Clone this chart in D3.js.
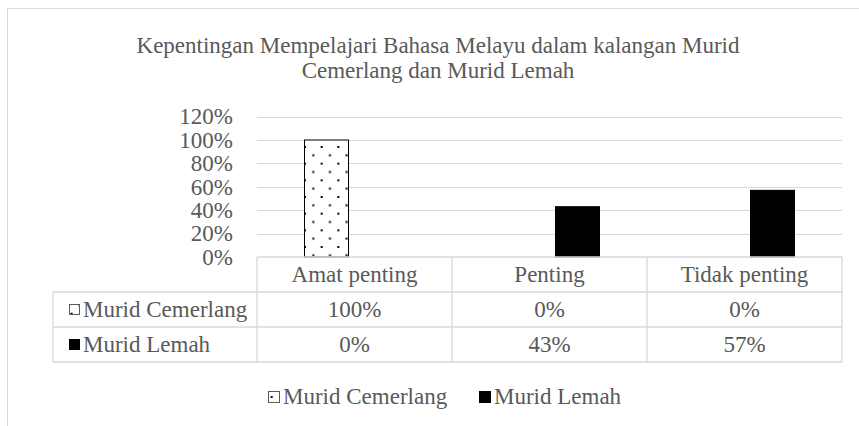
<!DOCTYPE html>
<html>
<head>
<meta charset="utf-8">
<script src="https://cdn.jsdelivr.net/npm/d3@7"></script>
<style>
  body { margin: 0; background: #fff; }
  svg text { font-family: "Liberation Serif", "Times New Roman", serif; fill: #595959; }
</style>
</head>
<body>
<div id="chart"></div>
<script>
// ============ data ============
const categories = ['Amat penting', 'Penting', 'Tidak penting'];
const seriesNames = ['Murid Cemerlang', 'Murid Lemah'];
const cemerlang = [1.00, 0, 0];
const lemah = [0, 0.43, 0.57];
const yTicks = [0, 0.2, 0.4, 0.6, 0.8, 1.0, 1.2];
const titleLines = ['Kepentingan Mempelajari Bahasa Melayu dalam kalangan Murid', 'Cemerlang dan Murid Lemah'];

// ============ size ============
var W = 859, H = 426;
var plot = {left: 257, right: 842, top: 116.6, bottom: 257};
var rowH = 35;
var tableLeft = 53;
var fontSize = 23;
var gridColor = '#d9d9d9';

var svg = d3.select('#chart').append('svg')
  .attr('width', W).attr('height', H);

// dotted pattern for Murid Cemerlang
var defs = svg.append('defs');
var pat = defs.append('pattern')
  .attr('id', 'dots')
  .attr('patternUnits', 'userSpaceOnUse')
  .attr('x', 304).attr('y', 146)
  .attr('width', 16.67).attr('height', 16.67);
pat.append('rect').attr('width', 16.67).attr('height', 16.67).attr('fill', '#fff');
pat.append('rect').attr('x', 0).attr('y', 0).attr('width', 2).attr('height', 2).attr('fill', '#000');
pat.append('rect').attr('x', 8.3).attr('y', 8.3).attr('width', 2).attr('height', 2).attr('fill', '#000');

const fills = ['url(#dots)', '#000'];

// chart border
svg.append('rect')
  .attr('x', 7.5).attr('y', 8.5)
  .attr('width', W + 20).attr('height', H + 20)
  .attr('fill', 'none').attr('stroke', gridColor);

// title
svg.append('g').selectAll('text')
  .data(titleLines).enter().append('text')
  .attr('x', 438)
  .attr('y', (d, i) => 53 + i * 25)
  .attr('text-anchor', 'middle')
  .style('font-size', '23px')
  .text(d => d);

// scales
var x = d3.scaleBand().domain(categories).range([plot.left, plot.right]);
var xs = d3.scaleBand().domain(seriesNames)
  .range([x.bandwidth() / 2 - 50, x.bandwidth() / 2 + 50])
  .paddingInner(0.214);
var y = d3.scaleLinear().domain([0, 1.2]).range([plot.bottom, plot.top]);

// gridlines
svg.append('g').selectAll('line')
  .data(yTicks.filter(d => d > 0)).enter().append('line')
  .attr('x1', plot.left).attr('x2', plot.right)
  .attr('y1', d => Math.round(y(d)) + 0.5).attr('y2', d => Math.round(y(d)) + 0.5)
  .attr('stroke', gridColor);

// y axis labels
var yAxis = svg.append('g')
  .attr('transform', 'translate(' + (plot.left - 24) + ',0)')
  .call(d3.axisLeft(y).tickValues(yTicks).tickFormat(d3.format('.0%')).tickSize(0).tickPadding(0));
yAxis.select('.domain').remove();
yAxis.selectAll('text').style('font-size', fontSize + 'px').style('font-family', '"Liberation Serif", serif').attr('fill', '#595959');

// bars
var seriesData = [cemerlang, lemah];
seriesData.forEach(function(vals, si) {
  svg.append('g').selectAll('rect')
    .data(vals).enter().append('rect')
    .attr('x', (d, i) => x(categories[i]) + xs(seriesNames[si]))
    .attr('y', d => y(d))
    .attr('width', xs.bandwidth())
    .attr('height', d => y(0) - y(d))
    .attr('fill', fills[si])
    .attr('stroke', d => d > 0 ? '#000' : 'none');
});

// ============ data table ============
var tbl = svg.append('g').attr('stroke', gridColor).attr('stroke-width', 1.3);
var rows = [plot.bottom, plot.bottom + rowH, plot.bottom + 2 * rowH, plot.bottom + 3 * rowH];
tbl.append('line').attr('x1', plot.left).attr('x2', plot.right).attr('y1', rows[0]).attr('y2', rows[0]);
rows.slice(1).forEach(function(r) {
  tbl.append('line').attr('x1', tableLeft).attr('x2', plot.right).attr('y1', r).attr('y2', r);
});
tbl.append('line').attr('x1', tableLeft).attr('x2', tableLeft).attr('y1', rows[1]).attr('y2', rows[3]);
categories.concat(['end']).forEach(function(c, i) {
  var xx = plot.left + i * x.bandwidth();
  tbl.append('line').attr('x1', xx).attr('x2', xx).attr('y1', rows[0]).attr('y2', rows[3]);
});

// header text
svg.append('g').selectAll('text')
  .data(categories).enter().append('text')
  .attr('x', d => x(d) + x.bandwidth() / 2)
  .attr('y', rows[0] + 25)
  .attr('text-anchor', 'middle')
  .style('font-size', fontSize + 'px')
  .text(d => d);

// row values
var fmt = d3.format('.0%');
seriesData.forEach(function(vals, si) {
  var g = svg.append('g');
  g.selectAll('text').data(vals).enter().append('text')
    .attr('x', (d, i) => x(categories[i]) + x.bandwidth() / 2)
    .attr('y', rows[si + 1] + 25)
    .attr('text-anchor', 'middle')
    .style('font-size', fontSize + 'px')
    .text(d => fmt(d));
  // row label with key
  g.append('rect')
    .attr('x', 69.5).attr('y', rows[si + 1] + 12.5)
    .attr('width', 10).attr('height', 10)
    .attr('fill', fills[si]).attr('stroke', si === 0 ? '#595959' : '#000');
  g.append('text')
    .attr('x', 83).attr('y', rows[si + 1] + 25)
    .style('font-size', fontSize + 'px')
    .text(seriesNames[si]);
});

// ============ legend ============
var legX = [268, 479];
seriesNames.forEach(function(name, si) {
  svg.append('rect')
    .attr('x', legX[si] + 0.5).attr('y', 391.5)
    .attr('width', 11).attr('height', 11)
    .attr('fill', fills[si]).attr('stroke', si === 0 ? '#595959' : '#000');
  svg.append('text')
    .attr('x', legX[si] + 15).attr('y', 404)
    .style('font-size', fontSize + 'px')
    .text(name);
});
</script>
</body>
</html>
